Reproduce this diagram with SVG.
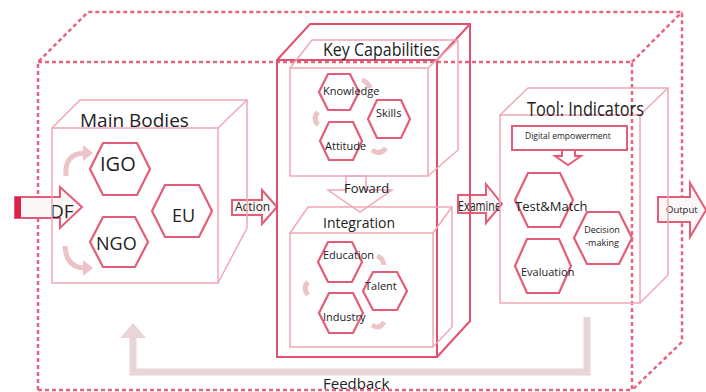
<svg xmlns="http://www.w3.org/2000/svg" width="706" height="392" viewBox="0 0 706 392">
<style>
.dash{fill:none;stroke:#e5647e;stroke-width:2.5;stroke-dasharray:4 3}
.box{fill:none;stroke:#f0a8b6;stroke-width:1.5}
.kbox{fill:none;stroke:#e2506e;stroke-width:2}
.hex{fill:#fff;stroke:#e35d78;stroke-width:2.2}
.t{font-family:"Open Sans","Noto Sans",sans-serif;fill:#222}
.arr{fill:#fbf7f7;stroke:#e35d78;stroke-width:2}
.curl{fill:none;stroke:#ecc3c6;stroke-width:5}
.curlh{fill:#ecc3c6}
</style>
<rect width="706" height="392" fill="#fff"/>
<g id="frame">
<polyline class="dash" points="38,390 38,62 88,12 682,12 682,342 632,390"/>
<polyline class="dash" points="38,62 632,62 632,390 38,390"/>
<line class="dash" x1="632" y1="62" x2="682" y2="12"/>
</g>
<g id="connectors">
<path d="M587,317 V372 H133 V337" fill="none" stroke="#e8d5d6" stroke-width="7"/>
<polygon points="120,338 146,338 133,323" fill="#e8d5d6"/>
<polygon class="arr" points="15,197 60,197 60,187 82,207 60,228 60,218 15,218"/>
<rect x="15" y="197" width="6" height="21" fill="#e0204c"/>
<text class="t" x="50" y="218" font-size="19">DF</text>
<polygon class="arr" points="232,200 262,200 262,190 277,207 262,224 262,215 232,215"/>
<text class="t" x="235" y="211" font-size="12">Action</text>
<polygon class="arr" points="458,195 486,195 486,184 502,204 486,223 486,213 458,213"/>
<text class="t" x="458" y="211" font-size="14" textLength="43" lengthAdjust="spacingAndGlyphs">Examine</text>
<polygon class="arr" points="658,197 690,197 690,183 706,210 690,237 690,222 658,222"/>
<text class="t" x="666" y="213" font-size="9.5">Output</text>
<polygon points="346,176 366,176 366,190 392,190 360,212 328,190 346,190" fill="#fff" stroke="#f0a8b6" stroke-width="1.5"/>
<text class="t" x="344" y="193" font-size="13">Foward</text>
<polygon points="562,150 575,150 575,156 581,156 568,165 555,156 562,156" fill="#fff" stroke="#e35d78" stroke-width="2"/>
<text class="t" x="323" y="389" font-size="15">Feedback</text>
</g>
<g id="main-bodies">
<rect class="box" x="52" y="128" width="166" height="155"/>
<polyline class="box" points="52,128 80,100 247,100 247,228 218,283"/>
<line class="box" x1="218" y1="128" x2="247" y2="100"/>
<text class="t" x="80" y="127" font-size="19">Main Bodies</text>
<path class="curl" d="M66,176 Q64,154 84,153"/>
<polygon class="curlh" points="83,145 93,153 83,161"/>
<path class="curl" d="M65,246 Q66,267 84,268"/>
<polygon class="curlh" points="83,260 93,268 83,276"/>
</g>
<g id="igo">
<polygon class="hex" points="90,169 103,143 137,143 150,169 137,195 103,195"/>
<text class="t" x="100" y="171" font-size="20">IGO</text>
</g>
<g id="eu">
<polygon class="hex" points="152,211 165,185 199,185 212,211 199,237 165,237"/>
<text class="t" x="172" y="222" font-size="18">EU</text>
</g>
<g id="ngo">
<polygon class="hex" points="90,242 103,217 135,217 148,242 135,267 103,267"/>
<text class="t" x="96" y="250" font-size="18">NGO</text>
</g>
<g id="key-capabilities">
<rect class="kbox" x="277" y="60" width="160" height="297"/>
<polyline class="kbox" points="277,60 310,24 470,24 470,321 437,357"/>
<line class="kbox" x1="437" y1="60" x2="470" y2="24"/>
<rect class="box" x="290" y="68" width="138" height="108"/>
<polyline class="box" points="290,68 312,40 458,40 458,150 428,176"/>
<line class="box" x1="428" y1="68" x2="458" y2="40"/>
<text class="t" x="323" y="56" font-size="18" textLength="117" lengthAdjust="spacingAndGlyphs">Key Capabilities</text>
<path class="curl" d="M318,112 Q312,118 318,125" stroke-width="3.5"/>
<path class="curl" d="M372,150 Q380,156 386,148" stroke-width="3.5"/>
<path class="curl" d="M362,80 Q368,82 370,88" stroke-width="3"/>
</g>
<g id="knowledge">
<polygon class="hex" points="319,92 328,74 350,74 359,92 350,110 328,110"/>
<text class="t" x="323" y="95" font-size="11">Knowledge</text>
</g>
<g id="skills">
<polygon class="hex" points="368,119 377,100 401,100 410,119 401,138 377,138"/>
<text class="t" x="376" y="117" font-size="11">Skills</text>
</g>
<g id="attitude">
<polygon class="hex" points="320,141 329,122 353,122 362,141 353,160 329,160"/>
<text class="t" x="325" y="150" font-size="11">Attitude</text>
</g>
<g id="integration">
<rect class="box" x="290" y="233" width="143" height="114"/>
<polyline class="box" points="290,233 308,207 452,207 452,327 433,347"/>
<line class="box" x1="433" y1="233" x2="452" y2="207"/>
<text class="t" x="323" y="228" font-size="14">Integration</text>
<path class="curl" d="M308,282 Q302,288 308,295" stroke-width="3.5"/>
<path class="curl" d="M377,256 Q383,258 384,265" stroke-width="3"/>
<path class="curl" d="M372,325 Q380,330 384,322" stroke-width="3.5"/>
</g>
<g id="education">
<polygon class="hex" points="318,262 328,242 352,242 362,262 352,282 328,282"/>
<text class="t" x="323" y="259" font-size="11">Education</text>
</g>
<g id="talent">
<polygon class="hex" points="363,291 373,272 397,272 407,291 397,310 373,310"/>
<text class="t" x="365" y="290" font-size="11">Talent</text>
</g>
<g id="industry">
<polygon class="hex" points="319,313 329,293 353,293 363,313 353,333 329,333"/>
<text class="t" x="323" y="321" font-size="11">Industry</text>
</g>
<g id="tool-indicators">
<rect class="box" x="500" y="115" width="140" height="188"/>
<polyline class="box" points="500,115 528,88 668,88 668,275 640,303"/>
<line class="box" x1="640" y1="115" x2="668" y2="88"/>
<text class="t" x="527" y="116" font-size="20" textLength="117" lengthAdjust="spacingAndGlyphs">Tool: Indicators</text>
</g>
<g id="digital-empowerment">
<rect x="512" y="126" width="115" height="24" fill="#fff" stroke="#e35d78" stroke-width="2"/>
<text class="t" x="525" y="139" font-size="8.5">Digital empowerment</text>
</g>
<g id="test-match">
<polygon class="hex" points="515,200 528,173 560,173 573,200 560,227 528,227"/>
<text class="t" x="515" y="211" font-size="13">Test&amp;Match</text>
</g>
<g id="decision-making">
<polygon class="hex" points="574,238 587,212 619,212 632,238 619,264 587,264"/>
<text class="t" x="602" y="233" font-size="9" text-anchor="middle">Decision</text>
<text class="t" x="602" y="246" font-size="9" text-anchor="middle">-making</text>
</g>
<g id="evaluation">
<polygon class="hex" points="515,266 527,239 559,239 571,266 559,293 527,293"/>
<text class="t" x="521" y="276" font-size="11">Evaluation</text>
</g>
</svg>
